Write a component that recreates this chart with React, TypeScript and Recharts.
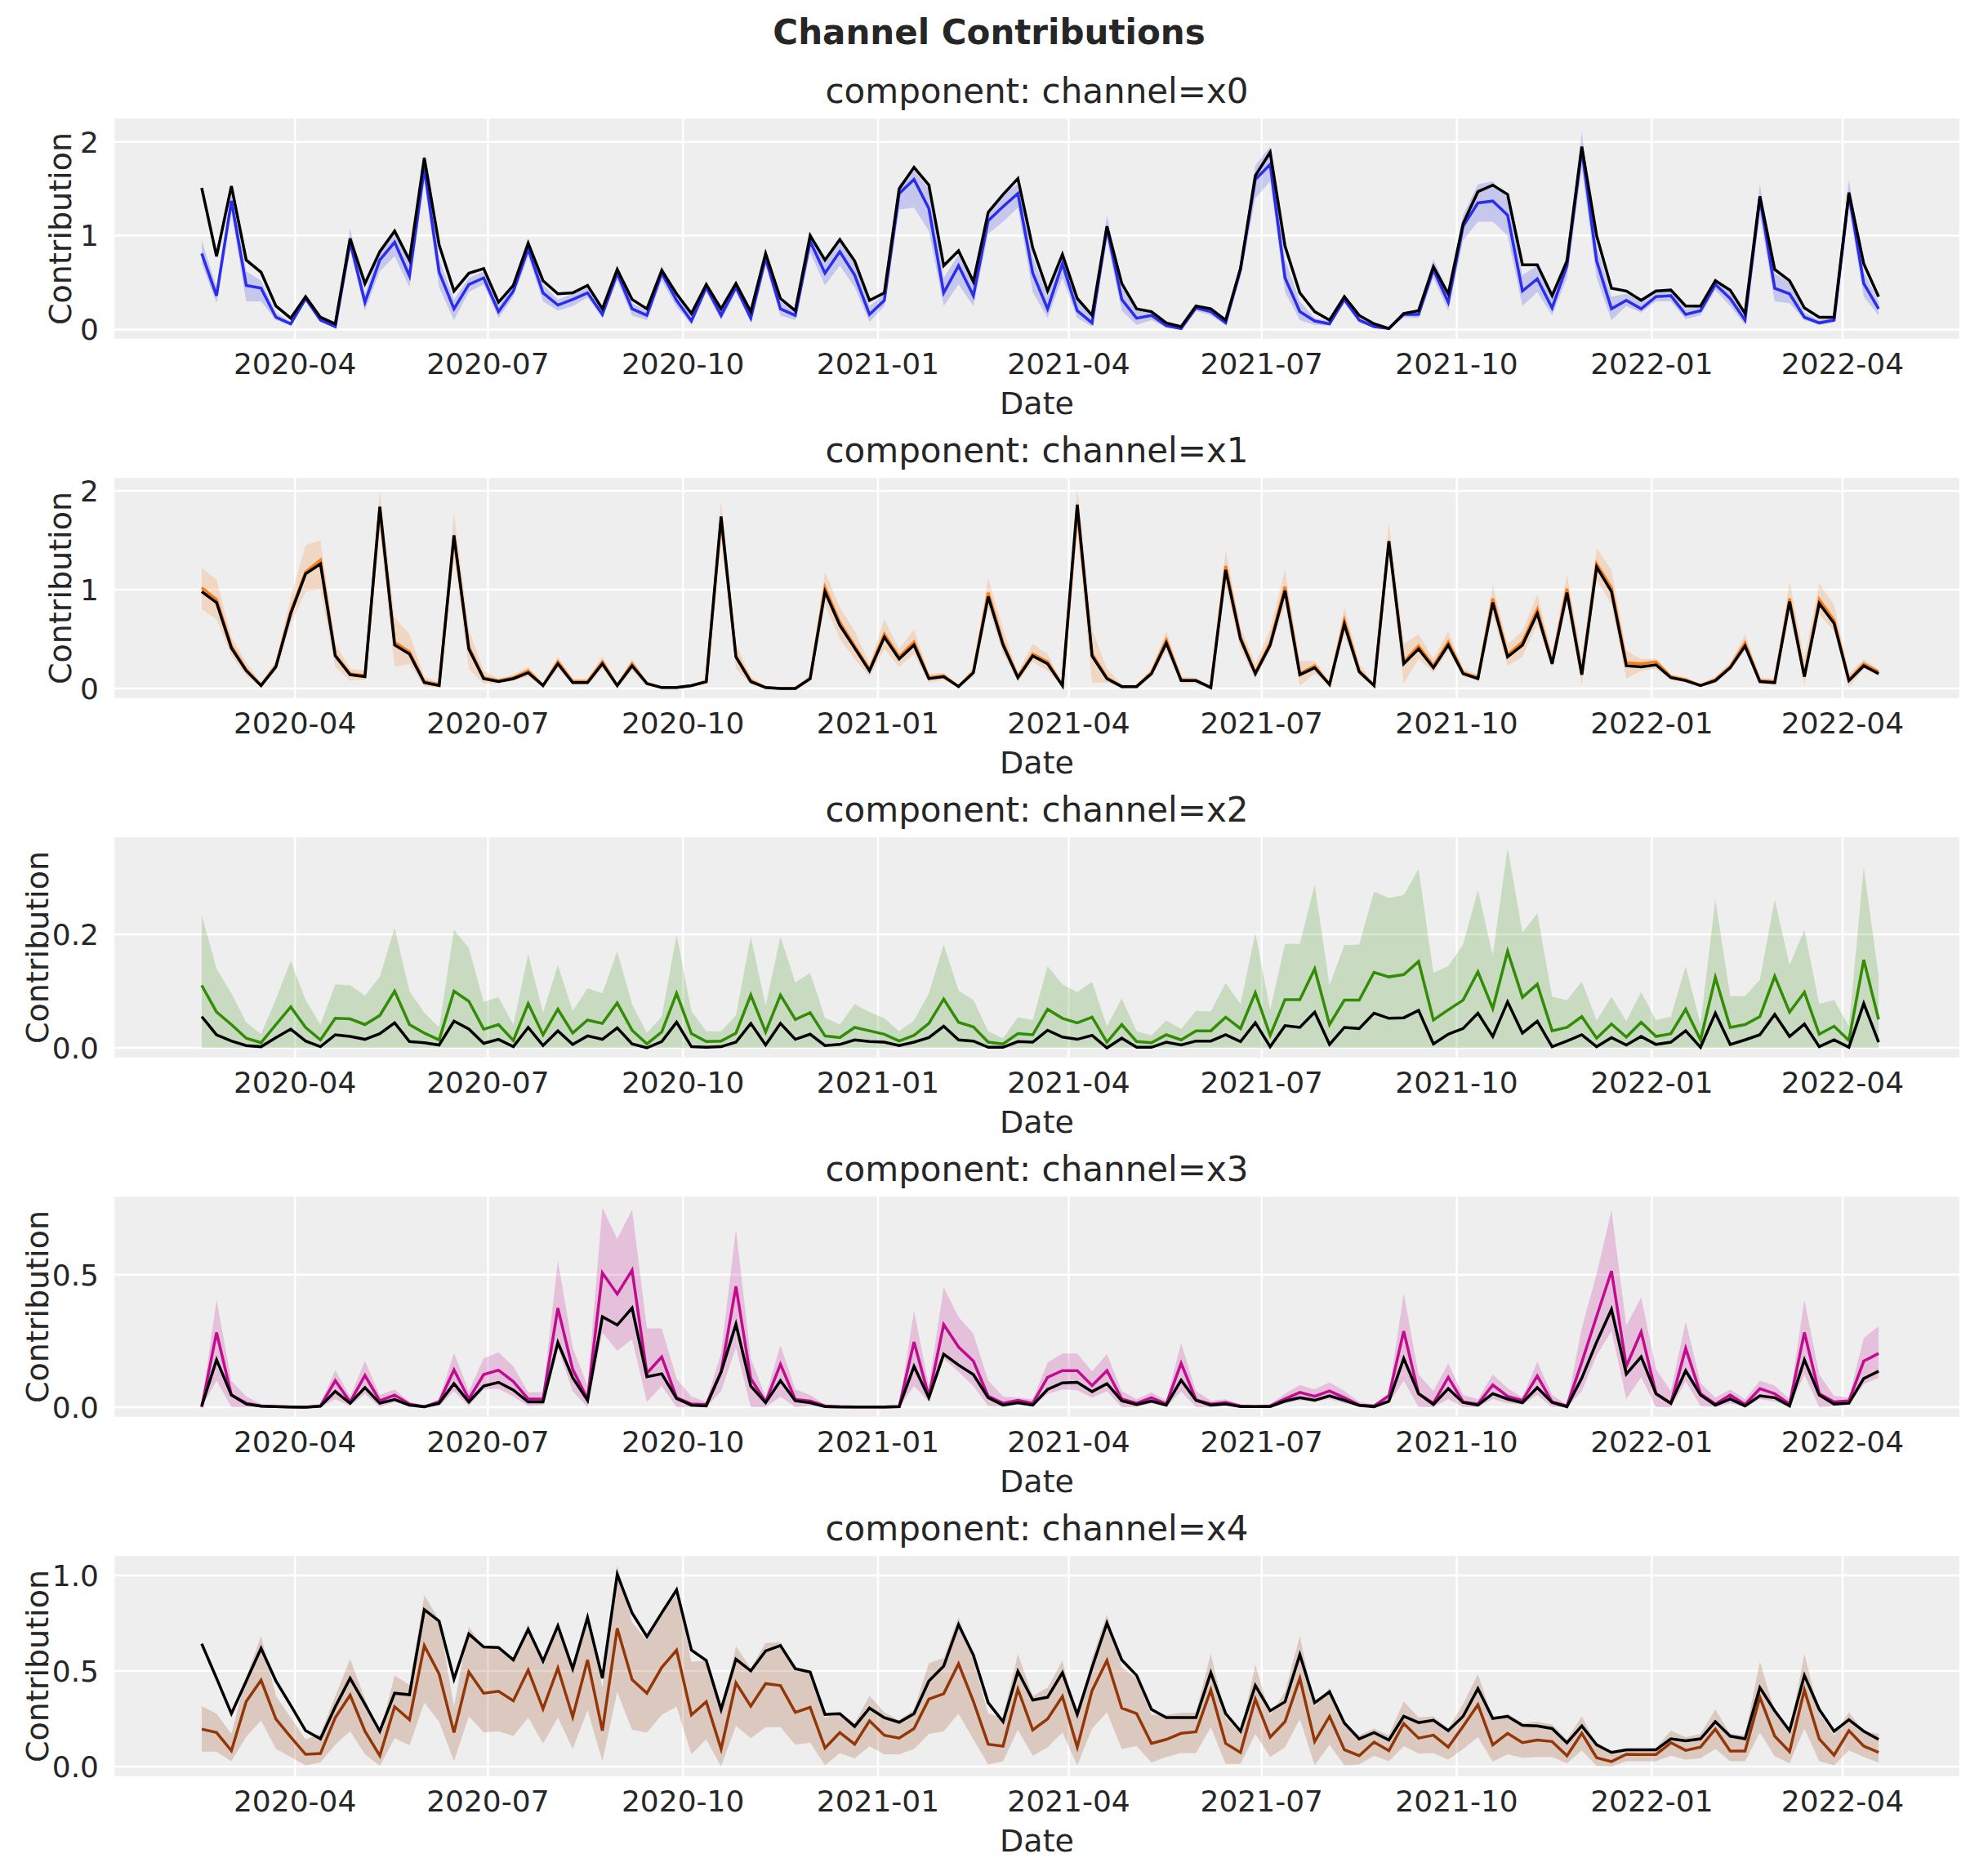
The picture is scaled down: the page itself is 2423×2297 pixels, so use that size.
import React from "react";
import { ComposedChart, Line, Area, XAxis, YAxis, CartesianGrid } from "recharts";

const START = Date.UTC(2020, 1, 17);
const WEEK = 7 * 86400000;
const DAY = 86400000;
const N_WEEKS = 114;
const dates = Array.from({ length: N_WEEKS }, (_, i) => START + i * WEEK);

const xTicks = [
  Date.UTC(2020, 3, 1), Date.UTC(2020, 6, 1), Date.UTC(2020, 9, 1),
  Date.UTC(2021, 0, 1), Date.UTC(2021, 3, 1), Date.UTC(2021, 6, 1),
  Date.UTC(2021, 9, 1), Date.UTC(2022, 0, 1), Date.UTC(2022, 3, 1),
];
const xDomain = [START - 41.6 * DAY, START + 113 * WEEK + 38.5 * DAY];

// channel x0
const x0Mean = [0.81,0.36,1.37,0.47,0.44,0.13,0.06,0.33,0.10,0.03,0.93,0.29,0.74,0.93,0.57,1.72,0.61,0.22,0.48,0.55,0.19,0.41,0.86,0.39,0.26,0.32,0.39,0.16,0.60,0.22,0.15,0.60,0.31,0.09,0.45,0.15,0.45,0.12,0.76,0.22,0.15,0.94,0.60,0.83,0.58,0.16,0.31,1.45,1.60,1.29,0.39,0.68,0.36,1.16,1.31,1.45,0.60,0.22,0.70,0.20,0.07,1.08,0.32,0.12,0.15,0.04,0.01,0.23,0.19,0.07,0.64,1.60,1.76,0.55,0.19,0.09,0.06,0.32,0.10,0.03,0.01,0.16,0.16,0.64,0.29,1.10,1.35,1.37,1.22,0.41,0.54,0.23,0.68,1.92,0.73,0.22,0.31,0.22,0.35,0.36,0.16,0.20,0.48,0.33,0.10,1.40,0.44,0.38,0.13,0.07,0.10,1.44,0.49,0.22];
const x0True = [1.51,0.78,1.53,0.74,0.61,0.25,0.12,0.35,0.13,0.06,0.97,0.49,0.83,1.05,0.74,1.83,0.90,0.41,0.60,0.65,0.29,0.47,0.92,0.52,0.38,0.39,0.47,0.22,0.64,0.32,0.22,0.63,0.38,0.17,0.48,0.22,0.49,0.19,0.81,0.33,0.20,1.00,0.74,0.96,0.73,0.31,0.39,1.50,1.73,1.54,0.68,0.84,0.51,1.25,1.44,1.61,0.87,0.41,0.80,0.33,0.15,1.10,0.49,0.22,0.19,0.07,0.03,0.25,0.22,0.10,0.65,1.64,1.89,0.89,0.39,0.19,0.10,0.35,0.15,0.06,0.01,0.17,0.20,0.67,0.38,1.13,1.47,1.54,1.44,0.69,0.69,0.36,0.73,1.95,1.00,0.44,0.41,0.31,0.41,0.42,0.25,0.25,0.52,0.42,0.17,1.42,0.64,0.52,0.23,0.13,0.13,1.46,0.70,0.35];
const x0Lo = [0.70,0.28,1.25,0.30,0.30,0.10,0.04,0.30,0.08,0.02,0.85,0.20,0.62,0.78,0.45,1.58,0.45,0.10,0.40,0.48,0.12,0.35,0.78,0.30,0.20,0.25,0.34,0.12,0.52,0.15,0.10,0.52,0.24,0.05,0.40,0.10,0.40,0.08,0.68,0.15,0.10,0.82,0.47,0.68,0.45,0.08,0.25,1.28,1.30,1.05,0.25,0.48,0.25,1.02,1.15,1.30,0.40,0.12,0.55,0.12,0.03,0.95,0.20,0.05,0.10,0.02,0.00,0.20,0.15,0.05,0.55,1.40,1.58,0.40,0.10,0.05,0.04,0.28,0.07,0.02,0.00,0.13,0.12,0.55,0.20,0.95,1.15,1.15,1.00,0.25,0.40,0.15,0.55,1.72,0.55,0.10,0.25,0.18,0.30,0.30,0.11,0.15,0.42,0.25,0.05,1.22,0.30,0.28,0.10,0.05,0.08,1.30,0.35,0.15];
const x0Hi = [0.95,0.45,1.45,0.62,0.52,0.18,0.08,0.38,0.14,0.05,1.08,0.38,0.85,1.02,0.70,1.87,0.75,0.32,0.55,0.62,0.25,0.48,0.95,0.48,0.32,0.38,0.45,0.20,0.68,0.28,0.20,0.68,0.38,0.14,0.50,0.20,0.50,0.18,0.85,0.30,0.20,1.05,0.72,0.95,0.70,0.25,0.38,1.55,1.70,1.50,0.55,0.80,0.48,1.28,1.45,1.55,0.78,0.35,0.82,0.32,0.12,1.22,0.45,0.20,0.20,0.07,0.03,0.26,0.22,0.10,0.70,1.75,1.95,0.75,0.30,0.12,0.09,0.38,0.14,0.05,0.02,0.18,0.20,0.75,0.40,1.22,1.55,1.58,1.40,0.58,0.68,0.32,0.80,2.10,0.90,0.35,0.38,0.30,0.40,0.42,0.22,0.25,0.55,0.42,0.15,1.55,0.60,0.50,0.18,0.10,0.13,1.60,0.62,0.30];

// channel x1
const x1Mean = [1.02,0.90,0.43,0.19,0.03,0.23,0.78,1.18,1.30,0.34,0.15,0.13,1.80,0.47,0.37,0.07,0.04,1.52,0.42,0.11,0.08,0.11,0.18,0.03,0.27,0.07,0.07,0.27,0.03,0.25,0.05,0.01,0.01,0.03,0.07,1.70,0.33,0.08,0.01,0.00,0.00,0.10,1.02,0.67,0.43,0.19,0.55,0.32,0.47,0.11,0.13,0.02,0.17,0.97,0.46,0.12,0.35,0.27,0.03,1.80,0.35,0.11,0.02,0.02,0.16,0.49,0.09,0.08,0.01,1.24,0.52,0.16,0.46,1.03,0.15,0.23,0.04,0.69,0.18,0.03,1.49,0.27,0.43,0.23,0.47,0.16,0.11,0.91,0.34,0.47,0.80,0.26,1.01,0.14,1.26,1.02,0.26,0.25,0.27,0.12,0.09,0.03,0.09,0.22,0.46,0.08,0.07,0.91,0.12,0.90,0.69,0.09,0.25,0.17];
const x1True = [0.98,0.87,0.41,0.18,0.03,0.22,0.76,1.16,1.26,0.33,0.14,0.12,1.84,0.44,0.35,0.06,0.03,1.55,0.40,0.10,0.07,0.10,0.16,0.03,0.25,0.06,0.06,0.25,0.03,0.23,0.05,0.01,0.01,0.03,0.07,1.74,0.32,0.07,0.01,0.00,0.00,0.10,0.98,0.64,0.41,0.18,0.52,0.30,0.44,0.10,0.12,0.02,0.16,0.93,0.44,0.11,0.33,0.25,0.03,1.86,0.33,0.10,0.02,0.02,0.15,0.46,0.08,0.08,0.01,1.20,0.50,0.15,0.44,0.99,0.14,0.21,0.04,0.65,0.17,0.03,1.49,0.25,0.40,0.21,0.44,0.15,0.10,0.87,0.32,0.44,0.76,0.25,0.97,0.14,1.23,0.98,0.23,0.22,0.24,0.11,0.08,0.03,0.08,0.21,0.43,0.07,0.06,0.88,0.12,0.86,0.66,0.08,0.23,0.15];
const x1Lo = [0.80,0.70,0.33,0.13,0.01,0.18,0.65,0.98,1.00,0.22,0.08,0.09,1.62,0.22,0.25,0.02,0.01,1.35,0.20,0.05,0.05,0.08,0.12,0.01,0.20,0.04,0.04,0.20,0.01,0.18,0.03,0.00,0.00,0.02,0.05,1.55,0.20,0.04,0.00,0.00,0.00,0.07,0.85,0.50,0.30,0.12,0.40,0.22,0.35,0.06,0.09,0.01,0.12,0.82,0.35,0.07,0.27,0.18,0.02,1.60,0.06,0.06,0.01,0.01,0.12,0.38,0.05,0.05,0.00,1.05,0.40,0.10,0.38,0.85,0.03,0.15,0.03,0.55,0.13,0.02,1.35,0.05,0.30,0.16,0.38,0.12,0.08,0.75,0.23,0.32,0.65,0.20,0.85,0.04,1.10,0.85,0.10,0.18,0.20,0.09,0.06,0.02,0.06,0.18,0.38,0.05,0.04,0.75,0.04,0.75,0.58,0.01,0.20,0.13];
const x1Hi = [1.22,1.10,0.52,0.26,0.06,0.28,0.92,1.45,1.50,0.45,0.20,0.18,2.00,0.72,0.55,0.12,0.06,1.78,0.60,0.18,0.10,0.14,0.22,0.05,0.32,0.10,0.10,0.32,0.05,0.30,0.07,0.02,0.02,0.04,0.10,1.90,0.45,0.12,0.02,0.01,0.01,0.14,1.18,0.82,0.58,0.25,0.70,0.40,0.60,0.15,0.16,0.03,0.22,1.12,0.60,0.16,0.45,0.35,0.05,2.03,0.60,0.20,0.04,0.04,0.20,0.58,0.12,0.11,0.02,1.40,0.62,0.25,0.60,1.20,0.28,0.28,0.06,0.82,0.25,0.04,1.68,0.45,0.55,0.30,0.58,0.20,0.14,1.05,0.45,0.58,0.95,0.35,1.16,0.30,1.42,1.20,0.38,0.30,0.30,0.14,0.11,0.05,0.12,0.26,0.55,0.11,0.10,1.08,0.30,1.06,0.85,0.15,0.30,0.19];

// channel x2
const x2Mean = [0.110,0.063,0.041,0.017,0.009,0.041,0.072,0.036,0.014,0.052,0.051,0.041,0.057,0.100,0.041,0.026,0.014,0.100,0.082,0.033,0.041,0.013,0.078,0.023,0.068,0.026,0.049,0.043,0.079,0.031,0.007,0.028,0.096,0.025,0.011,0.012,0.026,0.093,0.028,0.093,0.050,0.062,0.021,0.018,0.036,0.030,0.024,0.012,0.022,0.043,0.086,0.045,0.037,0.010,0.007,0.025,0.023,0.068,0.052,0.044,0.054,0.010,0.041,0.011,0.009,0.023,0.014,0.030,0.030,0.054,0.034,0.097,0.022,0.085,0.085,0.139,0.041,0.084,0.084,0.133,0.125,0.129,0.152,0.049,0.067,0.084,0.134,0.069,0.170,0.089,0.112,0.030,0.036,0.055,0.017,0.042,0.019,0.045,0.020,0.025,0.068,0.014,0.124,0.036,0.041,0.055,0.126,0.063,0.098,0.024,0.038,0.013,0.155,0.050];
const x2True = [0.055,0.023,0.012,0.004,0.002,0.018,0.033,0.012,0.002,0.023,0.020,0.015,0.025,0.044,0.011,0.009,0.005,0.047,0.033,0.008,0.015,0.002,0.036,0.004,0.030,0.006,0.021,0.015,0.035,0.007,0.000,0.011,0.045,0.002,0.001,0.002,0.010,0.043,0.005,0.043,0.015,0.024,0.004,0.006,0.014,0.011,0.010,0.004,0.010,0.018,0.038,0.014,0.012,0.001,0.001,0.011,0.010,0.031,0.019,0.015,0.022,0.000,0.017,0.001,0.001,0.010,0.005,0.012,0.012,0.023,0.011,0.044,0.002,0.039,0.036,0.063,0.006,0.036,0.034,0.061,0.052,0.053,0.066,0.007,0.024,0.034,0.061,0.020,0.081,0.026,0.047,0.002,0.012,0.023,0.002,0.018,0.005,0.020,0.006,0.010,0.030,0.001,0.061,0.006,0.014,0.023,0.059,0.020,0.042,0.002,0.014,0.001,0.078,0.010];
const x2Hi = [0.234,0.139,0.096,0.045,0.024,0.086,0.153,0.084,0.041,0.112,0.110,0.092,0.125,0.211,0.100,0.062,0.036,0.208,0.176,0.081,0.089,0.041,0.165,0.062,0.146,0.065,0.105,0.096,0.170,0.077,0.026,0.055,0.199,0.065,0.029,0.029,0.057,0.196,0.074,0.196,0.115,0.132,0.053,0.041,0.077,0.063,0.052,0.029,0.048,0.096,0.182,0.101,0.084,0.029,0.017,0.054,0.049,0.144,0.112,0.098,0.116,0.038,0.087,0.029,0.022,0.048,0.033,0.065,0.064,0.114,0.077,0.202,0.067,0.183,0.183,0.287,0.110,0.181,0.182,0.275,0.264,0.269,0.315,0.132,0.144,0.182,0.278,0.163,0.352,0.203,0.237,0.090,0.084,0.117,0.048,0.090,0.047,0.098,0.049,0.055,0.144,0.042,0.261,0.091,0.091,0.120,0.261,0.146,0.208,0.077,0.084,0.038,0.318,0.127];

// channel x3
const x3Mean = [0.000,0.282,0.046,0.015,0.005,0.002,0.001,0.000,0.005,0.100,0.020,0.120,0.024,0.046,0.012,0.002,0.020,0.141,0.031,0.123,0.140,0.097,0.031,0.031,0.374,0.143,0.031,0.507,0.427,0.517,0.128,0.190,0.036,0.012,0.010,0.133,0.456,0.108,0.020,0.162,0.029,0.023,0.005,0.002,0.001,0.001,0.001,0.002,0.246,0.041,0.312,0.227,0.174,0.041,0.015,0.026,0.015,0.113,0.138,0.138,0.082,0.138,0.031,0.015,0.036,0.012,0.166,0.028,0.012,0.018,0.005,0.002,0.005,0.031,0.056,0.041,0.061,0.036,0.008,0.005,0.043,0.287,0.051,0.015,0.113,0.020,0.012,0.084,0.041,0.026,0.118,0.020,0.005,0.170,0.343,0.514,0.154,0.284,0.051,0.015,0.222,0.051,0.012,0.046,0.010,0.070,0.051,0.012,0.282,0.051,0.020,0.024,0.174,0.203];
const x3True = [0.005,0.179,0.046,0.012,0.004,0.002,0.001,0.000,0.004,0.060,0.015,0.074,0.015,0.029,0.008,0.002,0.015,0.089,0.020,0.080,0.094,0.065,0.020,0.020,0.244,0.111,0.026,0.341,0.310,0.374,0.115,0.126,0.033,0.008,0.005,0.133,0.313,0.080,0.017,0.100,0.024,0.017,0.002,0.001,0.001,0.001,0.001,0.002,0.154,0.036,0.200,0.159,0.123,0.036,0.008,0.017,0.008,0.067,0.092,0.094,0.059,0.089,0.024,0.010,0.023,0.008,0.102,0.026,0.008,0.012,0.002,0.002,0.002,0.023,0.036,0.026,0.043,0.026,0.007,0.002,0.023,0.184,0.051,0.010,0.070,0.018,0.008,0.051,0.031,0.017,0.074,0.018,0.002,0.110,0.246,0.369,0.125,0.190,0.051,0.015,0.138,0.046,0.008,0.031,0.005,0.043,0.036,0.005,0.179,0.046,0.012,0.015,0.108,0.136];
const x3Lo = [0.000,0.100,0.000,0.000,0.000,0.000,0.000,0.000,0.000,0.030,0.005,0.050,0.000,0.020,0.002,0.000,0.005,0.060,0.005,0.067,0.070,0.040,0.005,0.008,0.225,0.060,0.000,0.282,0.213,0.256,0.020,0.080,0.000,0.000,0.000,0.060,0.225,0.000,0.000,0.040,0.000,0.005,0.000,0.000,0.000,0.000,0.000,0.000,0.080,0.020,0.184,0.133,0.080,0.005,0.002,0.010,0.002,0.050,0.067,0.064,0.036,0.060,0.000,0.000,0.015,0.002,0.060,0.000,0.000,0.005,0.000,0.000,0.000,0.015,0.026,0.020,0.031,0.015,0.002,0.000,0.015,0.100,0.000,0.000,0.031,0.000,0.000,0.031,0.015,0.010,0.046,0.000,0.000,0.060,0.195,0.287,0.031,0.113,0.000,0.000,0.097,0.005,0.000,0.015,0.000,0.031,0.022,0.000,0.123,0.000,0.005,0.010,0.087,0.111];
const x3Hi = [0.010,0.405,0.100,0.040,0.012,0.005,0.003,0.002,0.012,0.140,0.040,0.174,0.046,0.067,0.020,0.005,0.030,0.205,0.060,0.184,0.207,0.154,0.056,0.056,0.553,0.225,0.080,0.753,0.635,0.746,0.297,0.297,0.108,0.040,0.020,0.205,0.671,0.184,0.040,0.234,0.067,0.046,0.010,0.004,0.003,0.003,0.003,0.005,0.364,0.080,0.453,0.340,0.277,0.100,0.040,0.036,0.030,0.169,0.203,0.203,0.135,0.200,0.061,0.030,0.056,0.025,0.241,0.061,0.025,0.030,0.010,0.005,0.010,0.051,0.084,0.067,0.094,0.061,0.020,0.010,0.051,0.430,0.123,0.061,0.166,0.046,0.030,0.123,0.072,0.036,0.172,0.046,0.010,0.300,0.502,0.743,0.307,0.415,0.143,0.061,0.323,0.092,0.036,0.067,0.030,0.100,0.082,0.030,0.405,0.123,0.043,0.036,0.261,0.305];

// channel x4
const x4Mean = [0.196,0.178,0.083,0.341,0.452,0.249,0.154,0.064,0.068,0.256,0.374,0.185,0.057,0.313,0.245,0.633,0.484,0.178,0.495,0.384,0.394,0.344,0.505,0.302,0.515,0.260,0.558,0.188,0.723,0.455,0.384,0.519,0.609,0.270,0.339,0.092,0.438,0.316,0.434,0.424,0.284,0.310,0.097,0.178,0.117,0.239,0.164,0.149,0.199,0.353,0.381,0.538,0.341,0.117,0.107,0.405,0.192,0.249,0.367,0.102,0.398,0.555,0.306,0.277,0.121,0.142,0.174,0.182,0.401,0.121,0.074,0.353,0.154,0.235,0.462,0.131,0.263,0.088,0.057,0.128,0.083,0.225,0.149,0.164,0.102,0.211,0.324,0.114,0.174,0.125,0.139,0.131,0.057,0.174,0.046,0.026,0.064,0.063,0.063,0.125,0.085,0.102,0.196,0.081,0.081,0.363,0.159,0.078,0.401,0.145,0.060,0.188,0.107,0.074];
const x4True = [0.643,0.462,0.277,0.448,0.619,0.448,0.320,0.188,0.145,0.313,0.462,0.327,0.185,0.384,0.376,0.821,0.761,0.458,0.694,0.626,0.623,0.558,0.718,0.552,0.737,0.512,0.780,0.462,1.006,0.804,0.680,0.804,0.925,0.609,0.555,0.299,0.562,0.501,0.605,0.633,0.512,0.495,0.273,0.277,0.210,0.306,0.256,0.232,0.277,0.448,0.526,0.743,0.583,0.334,0.235,0.498,0.348,0.363,0.491,0.273,0.519,0.751,0.558,0.477,0.299,0.256,0.256,0.256,0.491,0.277,0.185,0.424,0.292,0.339,0.586,0.334,0.391,0.228,0.145,0.178,0.139,0.263,0.230,0.242,0.188,0.263,0.408,0.252,0.263,0.216,0.213,0.199,0.124,0.213,0.114,0.074,0.088,0.088,0.088,0.145,0.135,0.145,0.235,0.159,0.145,0.413,0.292,0.188,0.477,0.299,0.185,0.245,0.185,0.142];
const x4Lo = [0.078,0.078,0.028,0.156,0.242,0.092,0.050,0.007,0.021,0.114,0.185,0.064,0.003,0.149,0.111,0.334,0.235,0.028,0.263,0.178,0.185,0.159,0.256,0.121,0.256,0.092,0.296,0.028,0.391,0.192,0.178,0.270,0.313,0.064,0.142,0.000,0.213,0.149,0.206,0.206,0.114,0.125,0.007,0.071,0.043,0.107,0.064,0.064,0.092,0.171,0.185,0.277,0.142,0.011,0.028,0.192,0.057,0.100,0.178,0.007,0.199,0.284,0.092,0.107,0.021,0.050,0.071,0.071,0.206,0.014,0.014,0.171,0.050,0.100,0.249,0.007,0.114,0.007,0.011,0.057,0.028,0.107,0.068,0.071,0.036,0.092,0.154,0.026,0.064,0.046,0.050,0.050,0.017,0.085,0.003,0.000,0.028,0.028,0.028,0.057,0.036,0.043,0.092,0.028,0.028,0.178,0.054,0.017,0.199,0.028,0.007,0.085,0.050,0.021];
const x4Hi = [0.316,0.277,0.171,0.469,0.683,0.370,0.256,0.142,0.171,0.370,0.562,0.356,0.171,0.477,0.427,0.896,0.768,0.313,0.733,0.619,0.619,0.569,0.747,0.526,0.754,0.498,0.811,0.413,1.053,0.754,0.661,0.818,0.917,0.548,0.555,0.284,0.629,0.515,0.647,0.651,0.519,0.484,0.256,0.284,0.228,0.370,0.284,0.242,0.299,0.541,0.569,0.782,0.555,0.277,0.256,0.590,0.370,0.413,0.555,0.249,0.569,0.797,0.519,0.462,0.270,0.270,0.282,0.282,0.590,0.256,0.171,0.533,0.270,0.391,0.683,0.313,0.413,0.220,0.164,0.199,0.164,0.341,0.256,0.263,0.199,0.327,0.484,0.249,0.277,0.228,0.235,0.220,0.142,0.263,0.114,0.064,0.092,0.092,0.097,0.188,0.154,0.171,0.299,0.171,0.164,0.548,0.292,0.185,0.590,0.277,0.164,0.284,0.185,0.171];

const FONT = "DejaVu Sans, sans-serif";
const PLOT_LEFT = 139;
const PLOT_RIGHT = 2400;
const PLOT_H = 272;

const panels = [
  { name: "x0", mean: x0Mean, truth: x0True, lo: x0Lo, hi: x0Hi, color: "#2a2eec", domain: [-0.11, 2.26], ticks: [0, 1, 2], fmt: (v: number) => String(v), top: 144 },
  { name: "x1", mean: x1Mean, truth: x1True, lo: x1Lo, hi: x1Hi, color: "#fa7c17", domain: [-0.107, 2.14], ticks: [0, 1, 2], fmt: (v: number) => String(v), top: 584 },
  { name: "x2", mean: x2Mean, truth: x2True, lo: null, hi: x2Hi, color: "#328c06", domain: [-0.0187, 0.3725], ticks: [0, 0.2], fmt: (v: number) => v.toFixed(1), top: 1024 },
  { name: "x3", mean: x3Mean, truth: x3True, lo: x3Lo, hi: x3Hi, color: "#c10c90", domain: [-0.04, 0.798], ticks: [0, 0.5], fmt: (v: number) => v.toFixed(1), top: 1464 },
  { name: "x4", mean: x4Mean, truth: x4True, lo: x4Lo, hi: x4Hi, color: "#933708", domain: [-0.0555, 1.107], ticks: [0, 0.5, 1], fmt: (v: number) => v.toFixed(1), top: 1904 },
];

function fmtDate(t: number) {
  const d = new Date(t);
  return `${d.getUTCFullYear()}-${String(d.getUTCMonth() + 1).padStart(2, "0")}`;
}

function Panel({ p }: { p: (typeof panels)[number] }) {
  const data = dates.map((t, i) => ({
    t,
    mean: p.mean[i],
    truth: p.truth[i],
    band: [p.lo ? p.lo[i] : 0, p.hi[i]],
  }));
  const labelX = p.ticks.some((v) => v % 1 !== 0) ? 46 : 74;
  return (
    <>
      <div style={{ position: "absolute", left: (PLOT_LEFT + PLOT_RIGHT) / 2, top: p.top - 33, transform: "translate(-50%,-50%)", fontSize: 42, color: "#262626", whiteSpace: "nowrap" }}>
        component: channel={p.name}
      </div>
      <div style={{ position: "absolute", left: labelX, top: p.top + PLOT_H / 2, transform: "translate(-50%,-50%) rotate(-90deg)", fontSize: 38, color: "#262626", whiteSpace: "nowrap" }}>
        Contribution
      </div>
      <div style={{ position: "absolute", left: (PLOT_LEFT + PLOT_RIGHT) / 2, top: p.top + PLOT_H + 78, transform: "translate(-50%,-50%)", fontSize: 38, color: "#262626" }}>
        Date
      </div>
      <div style={{ position: "absolute", left: 0, top: p.top - 10 }}>
        <ComposedChart width={2423} height={PLOT_H + 10 + 60} data={data} margin={{ top: 10, right: 2423 - PLOT_RIGHT, bottom: 0, left: 0 }}>
          <CartesianGrid fill="#eeeeee" stroke="#ffffff" strokeWidth={2.5} />
          <XAxis dataKey="t" type="number" scale="time" domain={xDomain} ticks={xTicks} tickFormatter={fmtDate} height={60} axisLine={false} tickLine={false} tick={{ fontSize: 36, fill: "#262626", fontFamily: FONT }} tickMargin={10} />
          <YAxis type="number" domain={p.domain} ticks={p.ticks} tickFormatter={p.fmt} allowDataOverflow width={PLOT_LEFT} axisLine={false} tickLine={false} tick={{ fontSize: 36, fill: "#262626", fontFamily: FONT }} tickMargin={12} />
          <Area dataKey="band" type="linear" stroke="none" fill={p.color} fillOpacity={0.2} isAnimationActive={false} />
          <Line dataKey="mean" type="linear" stroke={p.color} strokeWidth={3.5} dot={false} isAnimationActive={false} />
          <Line dataKey="truth" type="linear" stroke="#000000" strokeWidth={3.5} dot={false} isAnimationActive={false} />
        </ComposedChart>
      </div>
    </>
  );
}

export default function App() {
  return (
    <div style={{ position: "absolute", left: 0, top: 0, width: 2423, height: 2297, background: "#fff", fontFamily: FONT }}>
      <div style={{ position: "absolute", left: 1211, top: 39, transform: "translate(-50%,-50%)", fontSize: 42, fontWeight: "bold", color: "#262626", whiteSpace: "nowrap" }}>
        Channel Contributions
      </div>
      {panels.map((p) => (
        <Panel key={p.name} p={p} />
      ))}
    </div>
  );
}
